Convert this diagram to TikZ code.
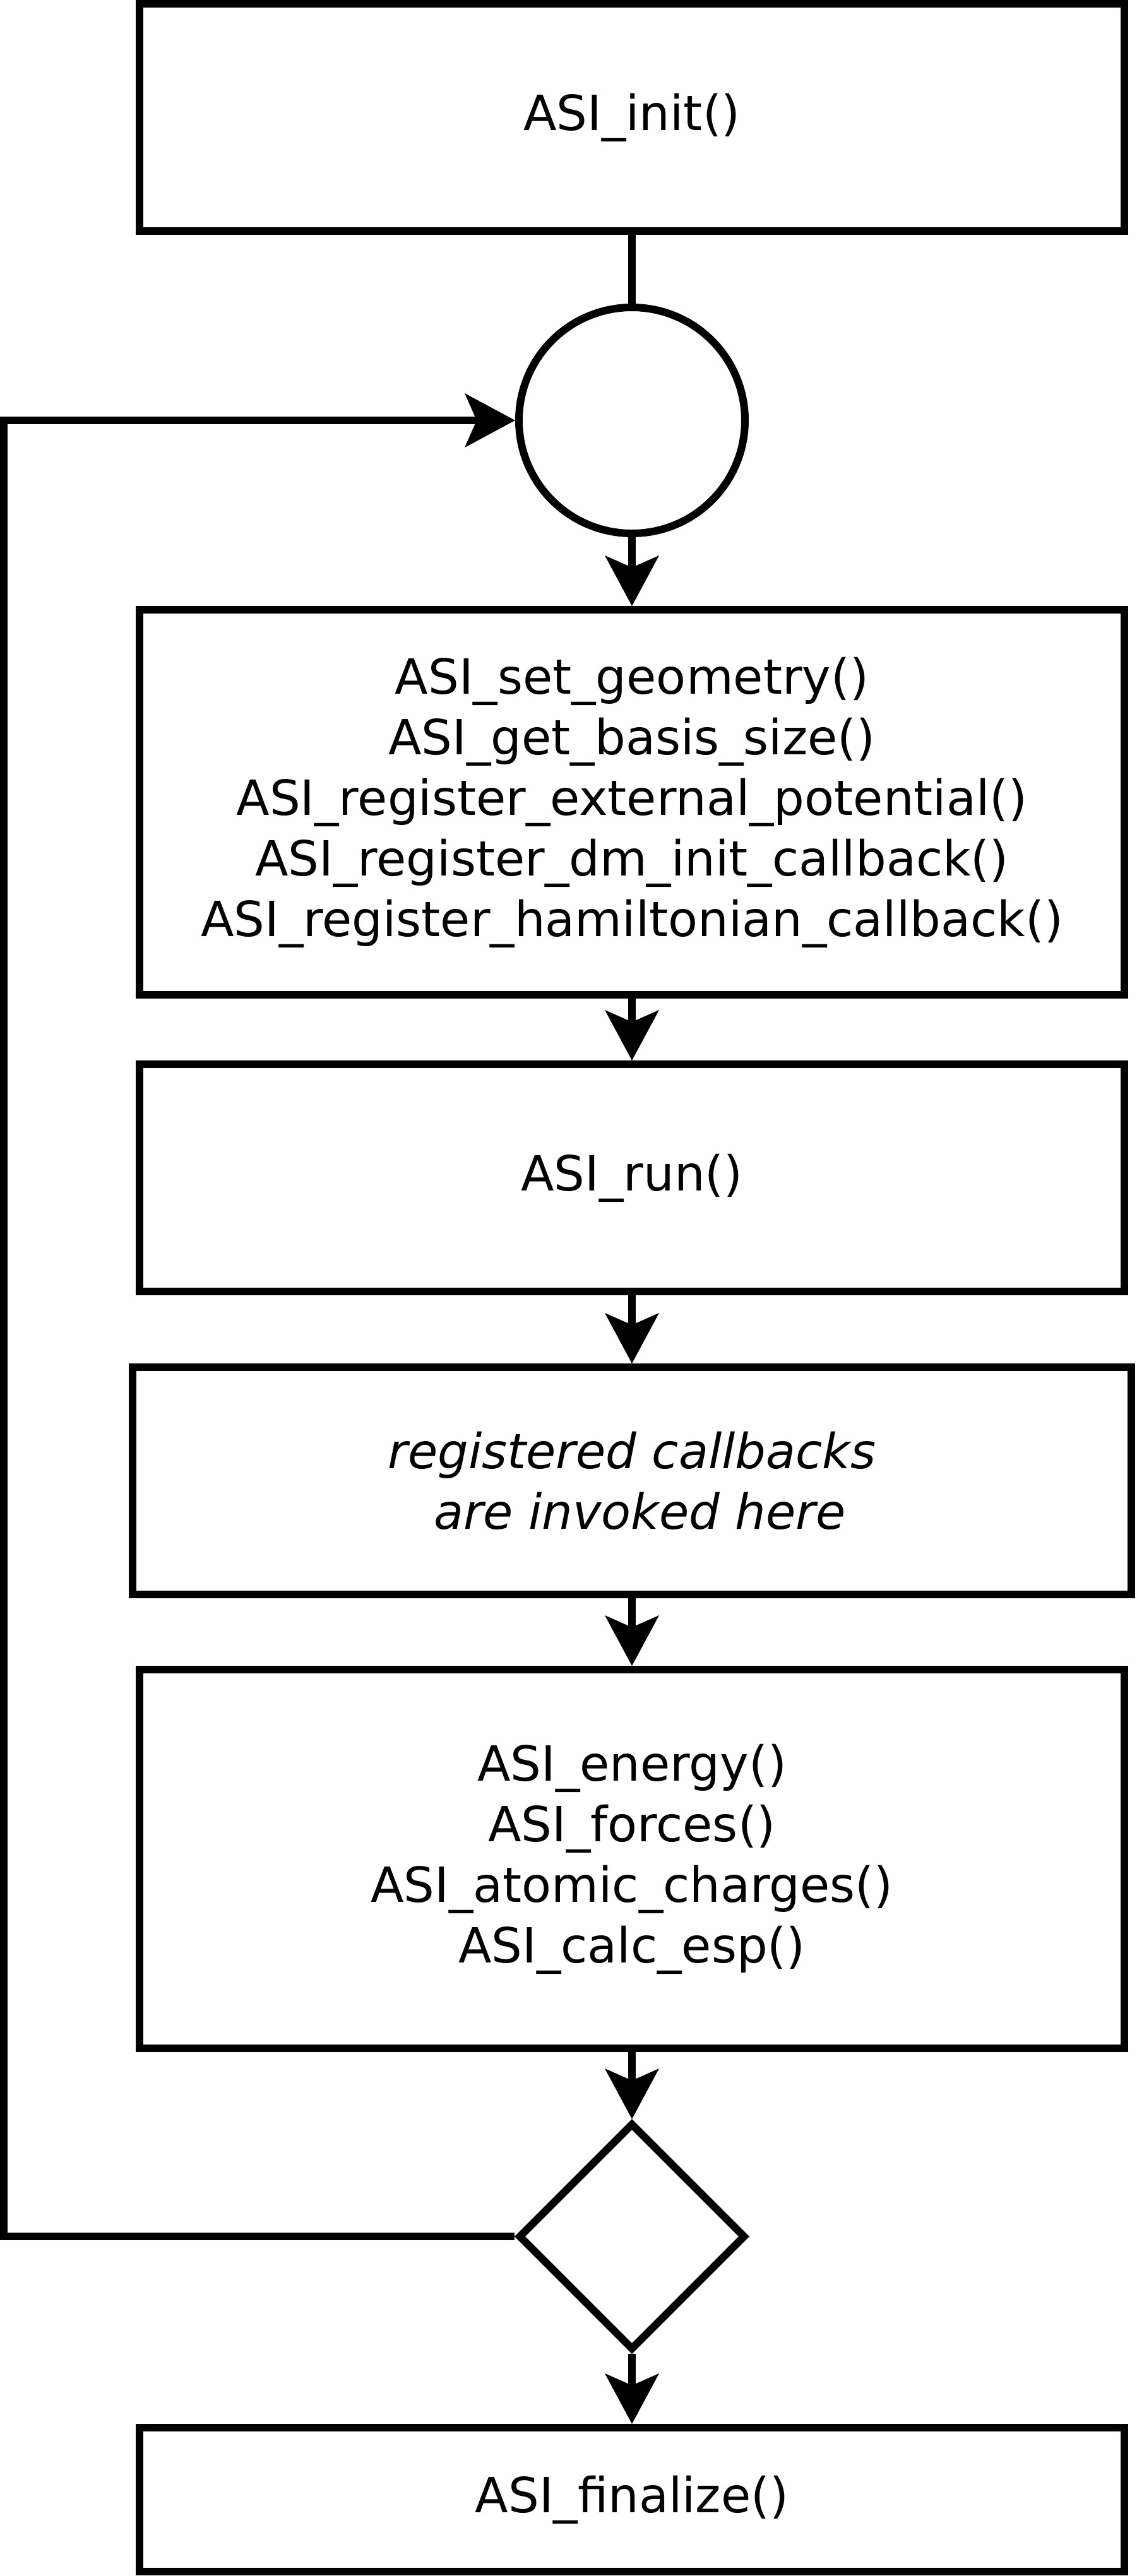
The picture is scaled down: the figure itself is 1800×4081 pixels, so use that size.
\documentclass[tikz,border=0pt]{standalone}
\usepackage{fontspec}
\setmainfont{DejaVu Sans}
\usetikzlibrary{arrows.meta,shapes.geometric}
\tikzset{
  box/.style={draw, line width=3pt, minimum width=390pt, align=center,
    font=\fontsize{19.2pt}{24pt}\selectfont, inner sep=0pt},
  conn/.style={line width=3pt},
  arr/.style={conn, -{Stealth[length=20pt,width=21.5pt,inset=4.75pt,line width=0pt]}}
}
\begin{document}
\begin{tikzpicture}[x=0.25pt,y=-0.25pt]
\useasboundingbox (0,0) rectangle (1800,4081);
\node[box, minimum height=90pt] (init) at (1001,186) {ASI\_init()};
\node[draw, circle, line width=3pt, minimum size=89.5pt, inner sep=0pt] (join) at (1001,666) {};
\node[box, minimum height=152.5pt] (setup) at (1001,1271) {ASI\_set\_geometry()\\ASI\_get\_basis\_size()\\ASI\_register\_external\_potential()\\ASI\_register\_dm\_init\_callback()\\ASI\_register\_hamiltonian\_callback()};
\node[box, minimum height=90pt] (run) at (1001,1866) {ASI\_run()};
\node[box, minimum height=90pt, minimum width=395.5pt, font=\fontsize{19.2pt}{24pt}\selectfont\itshape] (cb) at (1001,2346) {registered callbacks\\\ are invoked here};
\node[box, minimum height=150pt] (res) at (1001,2945) {ASI\_energy()\\ASI\_forces()\\ASI\_atomic\_charges()\\ASI\_calc\_esp()};
\node[draw, diamond, aspect=1, line width=3pt, minimum width=90pt, minimum height=90pt, inner sep=0pt] (dec) at (1001,3543) {};
\node[box, minimum height=57pt] (fin) at (1001,3960) {ASI\_finalize()};
\coordinate (lb) at (6,3543);
\coordinate (lt) at (6,666);
\draw[conn] (init) -- (join);
\draw[arr] (join) -- (setup);
\draw[arr] (setup) -- (run);
\draw[arr] (run) -- (cb);
\draw[arr] (cb) -- (res);
\draw[arr] (res) -- (dec);
\draw[arr] (dec) -- (fin);
\draw[arr] (dec.west) -- (lb) -- (lt) -- (join.west);
\end{tikzpicture}
\end{document}
